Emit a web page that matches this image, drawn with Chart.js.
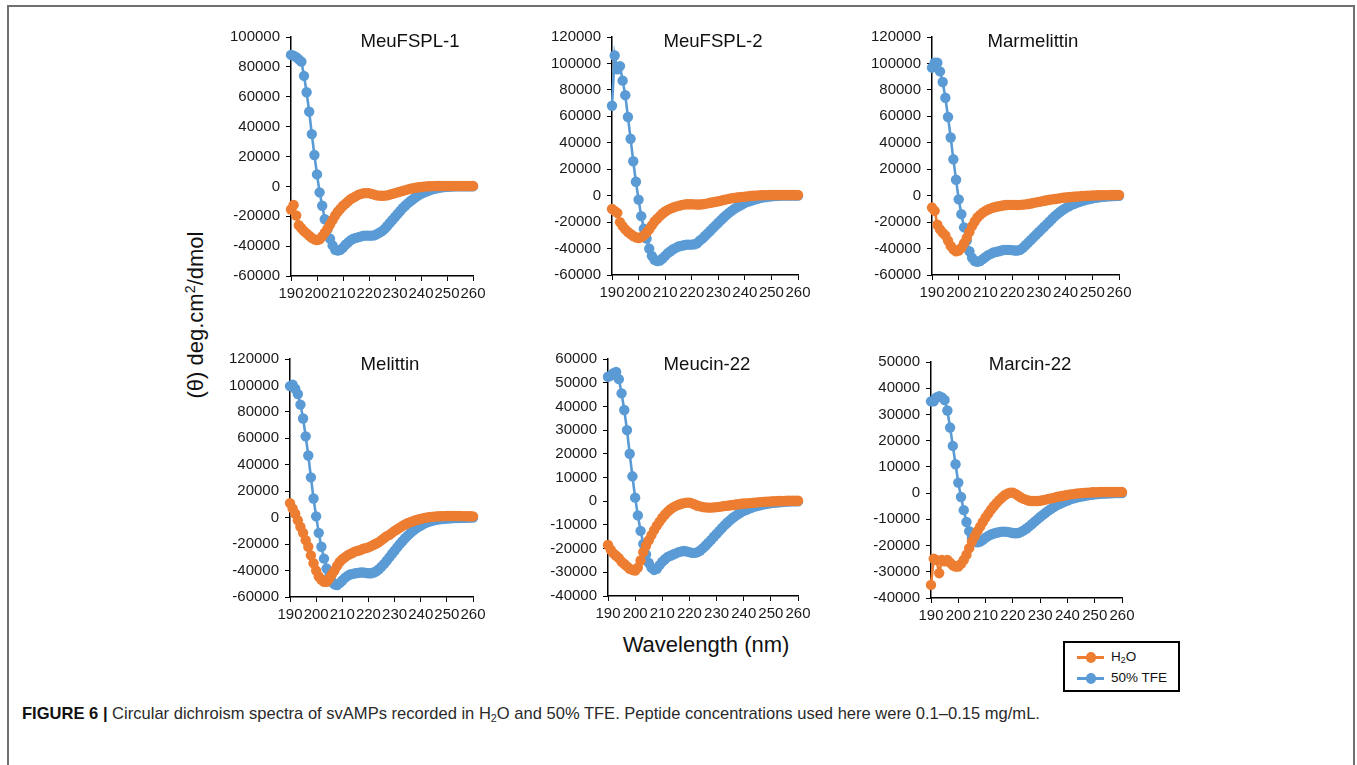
<!DOCTYPE html>
<html><head><meta charset="utf-8">
<script src="https://cdn.jsdelivr.net/npm/chart.js@4.4.1/dist/chart.umd.min.js"></script>
<style>
html,body{margin:0;padding:0;background:#fff;}
#page{position:relative;width:1357px;height:765px;overflow:hidden;background:#fff;font-family:"Liberation Sans",Arial,sans-serif;color:#1a1a1a;}
#frame{position:absolute;left:7px;top:5px;width:1344px;height:800px;border:2px solid #707070;border-bottom:none;}
canvas{position:absolute;}
.ptitle{position:absolute;font-size:18.6px;color:#111;transform:translate(-50%,-50%);white-space:nowrap;}
#ylab{position:absolute;left:196px;top:315px;font-size:22px;white-space:nowrap;transform:translate(-50%,-50%) rotate(-90deg);color:#111;}
#xlab{position:absolute;left:706px;top:645px;font-size:22px;white-space:nowrap;transform:translate(-50%,-50%);color:#111;}
sup{font-size:0.65em;vertical-align:0.55em;line-height:0;}
sub{font-size:0.65em;vertical-align:-0.25em;line-height:0;}
#legend{position:absolute;left:1063px;top:641px;width:117px;height:51px;box-sizing:border-box;border:2px solid #000;background:#fff;}
.litem{position:absolute;left:0;width:113px;height:18px;}
.lline{position:absolute;left:12px;top:8px;width:27px;height:2.5px;}
.ldot{position:absolute;left:20.5px;top:4px;width:10.5px;height:10.5px;border-radius:50%;}
.ltext{position:absolute;left:46px;top:0px;font-size:13.5px;line-height:18px;color:#111;white-space:nowrap;}
#caption{position:absolute;left:22px;top:703px;font-size:17px;line-height:22px;white-space:nowrap;color:#2a2a2a;font-family:"Liberation Sans Narrow","Liberation Sans",Arial,sans-serif;transform-origin:0 50%;}
#caption b{color:#111;}
</style></head>
<body>
<div id="page">
  <div id="frame"></div>
  <div id="ylab">(θ) deg.cm<sup>2</sup>/dmol</div>
  <div id="xlab">Wavelength (nm)</div>
  <div id="legend">
    <div class="litem" style="top:5px"><div class="lline" style="background:#ED7D31"></div><div class="ldot" style="background:#ED7D31"></div><div class="ltext">H<sub>2</sub>O</div></div>
    <div class="litem" style="top:26px"><div class="lline" style="background:#5B9BD5"></div><div class="ldot" style="background:#5B9BD5"></div><div class="ltext">50% TFE</div></div>
  </div>
  <div id="caption"><b>FIGURE 6 |</b> Circular dichroism spectra of svAMPs recorded in H<sub>2</sub>O and 50% TFE. Peptide concentrations used here were 0.1–0.15 mg/mL.</div>
</div>
<script>
// ---------------- DATA ----------------
const wavelengths = [190,191,192,193,194,195,196,197,198,199,200,201,202,203,204,205,206,207,208,209,210,211,212,213,214,215,216,217,218,219,220,221,222,223,224,225,226,227,228,229,230,231,232,233,234,235,236,237,238,239,240,241,242,243,244,245,246,247,248,249,250,251,252,253,254,255,256,257,258,259,260];
const xTickLabels = [190,200,210,220,230,240,250,260];
const seriesNames = ["H2O","50% TFE"];
const panelTitles = ["MeuFSPL-1","MeuFSPL-2","Marmelittin","Melittin","Meucin-22","Marcin-22"];

const yTicks_MeuFSPL1 = [-60000,-40000,-20000,0,20000,40000,60000,80000,100000];
const yTicks_MeuFSPL2 = [-60000,-40000,-20000,0,20000,40000,60000,80000,100000,120000];
const yTicks_Marmelittin = [-60000,-40000,-20000,0,20000,40000,60000,80000,100000,120000];
const yTicks_Melittin = [-60000,-40000,-20000,0,20000,40000,60000,80000,100000,120000];
const yTicks_Meucin22 = [-40000,-30000,-20000,-10000,0,10000,20000,30000,40000,50000,60000];
const yTicks_Marcin22 = [-40000,-30000,-20000,-10000,0,10000,20000,30000,40000,50000];

const MeuFSPL1_H2O = [-15500,-12500,-19500,-26000,-28000,-30000,-31500,-33000,-34500,-35500,-36000,-35500,-33500,-31000,-28500,-25500,-22500,-19500,-17000,-15000,-13000,-11500,-10000,-8500,-7500,-6500,-5500,-5000,-4500,-4500,-4500,-5000,-5500,-6000,-6200,-6300,-6200,-6000,-5500,-5000,-4500,-4000,-3500,-3000,-2500,-2000,-1600,-1200,-900,-600,-400,-200,0,100,200,200,300,300,300,300,300,300,300,300,300,300,300,300,300,300,300];
const MeuFSPL1_TFE = [88000,87500,86500,85000,83500,74000,63000,50000,35000,21000,8000,-4000,-13000,-22000,-29000,-35000,-39500,-42500,-43000,-42500,-41000,-39000,-37500,-36000,-35000,-34500,-34000,-33500,-33000,-33000,-33000,-33000,-32800,-32000,-31000,-30000,-28500,-26500,-24500,-22500,-20500,-18500,-16500,-14500,-12800,-11200,-9800,-8500,-7200,-6000,-5000,-4200,-3500,-2800,-2200,-1700,-1300,-900,-600,-400,-250,-150,-100,0,0,0,0,0,0,0,0];

const MeuFSPL2_H2O = [-10000,-11500,-13000,-20000,-23000,-25500,-27500,-29000,-30500,-31500,-32000,-31500,-30000,-28000,-25500,-22500,-19500,-17500,-15500,-13500,-12000,-10800,-9800,-9000,-8300,-7700,-7200,-6800,-6500,-6500,-6500,-6600,-6700,-6700,-6500,-6200,-5800,-5400,-5000,-4600,-4200,-3800,-3300,-2800,-2400,-2000,-1700,-1400,-1100,-900,-700,-500,-300,-100,0,200,300,400,400,500,500,500,500,500,500,500,500,500,500,500,500];
const MeuFSPL2_TFE = [68000,106000,95500,98000,87000,76000,59500,43000,26000,10500,-3000,-15500,-25000,-32500,-40000,-45500,-48500,-49500,-49000,-47500,-45500,-43500,-42000,-40500,-39500,-38500,-38000,-37500,-37000,-37000,-37000,-36800,-36000,-34000,-32500,-30500,-28500,-26500,-24500,-22500,-20500,-18500,-16500,-14700,-13000,-11500,-10000,-8800,-7600,-6500,-5500,-4700,-4000,-3300,-2700,-2200,-1700,-1300,-1000,-700,-500,-300,-200,-100,0,0,0,0,0,0,0];

const Marmelittin_H2O = [-9000,-11500,-22000,-25500,-28000,-30000,-34000,-38000,-40500,-42000,-41500,-39500,-36000,-32000,-27500,-23000,-19500,-16500,-14500,-12800,-11500,-10500,-9600,-9000,-8400,-8000,-7600,-7300,-7100,-7000,-7000,-7000,-7100,-7000,-6800,-6600,-6300,-5900,-5500,-5100,-4700,-4300,-3900,-3500,-3100,-2800,-2500,-2200,-1900,-1600,-1400,-1200,-1000,-800,-600,-500,-300,-200,-100,0,100,200,300,300,400,400,400,500,500,500,500];
const Marmelittin_TFE = [96800,100500,100500,94000,86000,74000,59500,44000,27500,12000,-2800,-14000,-24000,-34000,-42000,-47000,-49400,-50000,-49500,-48000,-46500,-45000,-44000,-43000,-42500,-42000,-41500,-41000,-41000,-41000,-41200,-41500,-41500,-41000,-39500,-37500,-35500,-33500,-31500,-29500,-27500,-25500,-23500,-21500,-19500,-17500,-15500,-13800,-12200,-10700,-9400,-8200,-7200,-6300,-5500,-4800,-4100,-3500,-3000,-2500,-2100,-1700,-1400,-1100,-900,-700,-500,-400,-300,-200,-100];

const Melittin_H2O = [11000,7000,3000,-2000,-7000,-11500,-17000,-22000,-28500,-34500,-40000,-44500,-47000,-48500,-48500,-46000,-43000,-40000,-36500,-33500,-31500,-30000,-28500,-27500,-26500,-25500,-25000,-24500,-23500,-23000,-22500,-21500,-20500,-19500,-18500,-17000,-15500,-14000,-13000,-11500,-10000,-8800,-7500,-6200,-5200,-4200,-3400,-2700,-2000,-1400,-900,-400,0,300,600,800,1000,1100,1200,1200,1300,1300,1300,1300,1300,1300,1200,1200,1100,1100,1000];
const Melittin_TFE = [99500,100500,97500,93500,85500,75000,61500,47000,30500,14500,1000,-11500,-22000,-31000,-38500,-44500,-48500,-50500,-51000,-49500,-47500,-45500,-44000,-43000,-42500,-42000,-41800,-41500,-41500,-41800,-42000,-42000,-41500,-40500,-39000,-37000,-35000,-32500,-30000,-27500,-25000,-22500,-20000,-17800,-15600,-13600,-11700,-10000,-8500,-7100,-5900,-4800,-3900,-3100,-2500,-2000,-1600,-1300,-1000,-800,-600,-500,-400,-300,-200,-200,-100,-100,0,0,0];

const Meucin22_H2O = [-18500,-20500,-22000,-23000,-24000,-25500,-26500,-27500,-28500,-29000,-29300,-28000,-25000,-21500,-18800,-16500,-14300,-12200,-10300,-8600,-7000,-5600,-4400,-3400,-2600,-2000,-1500,-1100,-800,-600,-600,-900,-1400,-1900,-2200,-2500,-2600,-2700,-2700,-2600,-2500,-2400,-2200,-2000,-1900,-1700,-1600,-1400,-1300,-1100,-1000,-900,-800,-700,-600,-500,-400,-300,-200,-200,-100,0,0,100,100,100,200,200,200,200,200];
const Meucin22_TFE = [52500,53000,54000,54500,51500,45500,38500,30000,20000,10500,1500,-6000,-12500,-18000,-22500,-26000,-28000,-29000,-28500,-27000,-25500,-24500,-23500,-23000,-22500,-22000,-21500,-21200,-21000,-21200,-21500,-21800,-21800,-21500,-20800,-19800,-18700,-17500,-16300,-15000,-13800,-12500,-11300,-10100,-9000,-8000,-7000,-6200,-5400,-4700,-4100,-3600,-3100,-2700,-2300,-2000,-1700,-1400,-1200,-1000,-800,-700,-600,-500,-400,-300,-200,-100,0,0,0];

const Marcin22_H2O = [-35000,-25000,-25500,-30500,-25500,-26000,-25500,-26500,-27500,-28000,-28000,-27000,-25500,-23500,-21000,-18500,-16500,-14500,-12800,-11000,-9300,-7800,-6300,-5000,-3800,-2700,-1700,-800,-200,200,200,-300,-1000,-1700,-2200,-2600,-2900,-3000,-3000,-3000,-2900,-2700,-2500,-2200,-2000,-1800,-1500,-1300,-1100,-900,-700,-500,-400,-200,-100,0,100,200,200,300,300,300,400,400,400,400,400,400,400,400,400];
const Marcin22_TFE = [35000,35000,36500,37000,36500,35500,31500,25000,18000,11000,4000,-1500,-6500,-11000,-14500,-17000,-18500,-18800,-18500,-17800,-17000,-16300,-15800,-15400,-15100,-14900,-14700,-14700,-14800,-15000,-15200,-15300,-15200,-14800,-14200,-13500,-12700,-11800,-10900,-10000,-9100,-8300,-7500,-6700,-6000,-5300,-4700,-4200,-3700,-3200,-2800,-2400,-2100,-1800,-1500,-1300,-1100,-900,-700,-600,-500,-400,-300,-200,-200,-100,-100,0,0,0,0];

// ---------------- STYLE / LAYOUT ----------------
const ORANGE = '#ED7D31', BLUE = '#5B9BD5';
const FONT = '"Liberation Sans", Arial, sans-serif';
const panels = [
  {title:panelTitles[0], h2o:MeuFSPL1_H2O, tfe:MeuFSPL1_TFE, yt:yTicks_MeuFSPL1, x:291, y:36, w:182, h:240, tx:410, ty:41},
  {title:panelTitles[1], h2o:MeuFSPL2_H2O, tfe:MeuFSPL2_TFE, yt:yTicks_MeuFSPL2, x:612, y:36, w:186, h:239, tx:713, ty:41},
  {title:panelTitles[2], h2o:Marmelittin_H2O, tfe:Marmelittin_TFE, yt:yTicks_Marmelittin, x:932, y:36, w:187, h:239, tx:1033, ty:41},
  {title:panelTitles[3], h2o:Melittin_H2O, tfe:Melittin_TFE, yt:yTicks_Melittin, x:290, y:358, w:183, h:239, tx:390, ty:364},
  {title:panelTitles[4], h2o:Meucin22_H2O, tfe:Meucin22_TFE, yt:yTicks_Meucin22, x:608, y:358, w:190, h:238, tx:707, ty:364},
  {title:panelTitles[5], h2o:Marcin22_H2O, tfe:Marcin22_TFE, yt:yTicks_Marcin22, x:931, y:361, w:191, h:237, tx:1030, ty:364}
];

const page = document.getElementById('page');
const padL = 100, padT = 14, padR = 24, axisH = 40;

function makePanel(p) {
  const canvas = document.createElement('canvas');
  const W = p.w + padL + padR, H = p.h + padT + axisH;
  canvas.width = W; canvas.height = H;
  canvas.style.left = (p.x - padL) + 'px';
  canvas.style.top = (p.y - padT) + 'px';
  canvas.style.width = W + 'px'; canvas.style.height = H + 'px';
  page.appendChild(canvas);

  const mk = (arr) => wavelengths.map((x, i) => ({x: x, y: arr[i]}));
  const ds = (label, arr, color, order) => ({
    label: label, data: mk(arr), borderColor: color, backgroundColor: color,
    pointBackgroundColor: color, pointBorderColor: color, pointBorderWidth: 0,
    pointRadius: 5.2, borderWidth: 2.6, tension: 0, order: order, clip: false
  });

  new Chart(canvas, {
    type: 'line',
    data: { datasets: [ ds(seriesNames[0], p.h2o, ORANGE, 1), ds(seriesNames[1], p.tfe, BLUE, 2) ] },
    options: {
      responsive: false, animation: false, devicePixelRatio: 1,
      layout: { padding: { left: 0, top: padT, right: padR, bottom: 0 } },
      plugins: { legend: { display: false }, tooltip: { enabled: false }, title: { display: false } },
      scales: {
        x: {
          type: 'linear', min: xTickLabels[0], max: xTickLabels[xTickLabels.length - 1],
          afterBuildTicks: (s) => { s.ticks = xTickLabels.map(v => ({value: v})); },
          afterFit: (s) => { s.height = axisH; },
          ticks: { autoSkip: false, maxRotation: 0, minRotation: 0, padding: 4, color: '#1a1a1a',
                   font: { size: 15, family: FONT }, callback: (v) => String(v) },
          grid: { display: true, drawOnChartArea: false, drawTicks: true, tickLength: 5, color: '#000', lineWidth: 1 },
          border: { display: true, color: '#000', width: 1.5 }
        },
        y: {
          type: 'linear', min: p.yt[0], max: p.yt[p.yt.length - 1],
          afterBuildTicks: (s) => { s.ticks = p.yt.map(v => ({value: v})); },
          afterFit: (s) => { s.width = padL; },
          ticks: { autoSkip: false, padding: 6, color: '#1a1a1a',
                   font: { size: 15, family: FONT }, callback: (v) => String(v) },
          grid: { display: true, drawOnChartArea: false, drawTicks: true, tickLength: 5, color: '#000', lineWidth: 1 },
          border: { display: true, color: '#000', width: 1.5 }
        }
      }
    }
  });

  const t = document.createElement('div');
  t.className = 'ptitle';
  t.textContent = p.title;
  t.style.left = p.tx + 'px';
  t.style.top = p.ty + 'px';
  page.appendChild(t);
}
panels.forEach(makePanel);

// fit caption width to the reference line length
const cap = document.getElementById('caption');
const targetW = 1018;
const cw = cap.getBoundingClientRect().width;
if (cw > 0) cap.style.transform = 'scaleX(' + (targetW / cw).toFixed(4) + ')';
</script>
</body></html>
